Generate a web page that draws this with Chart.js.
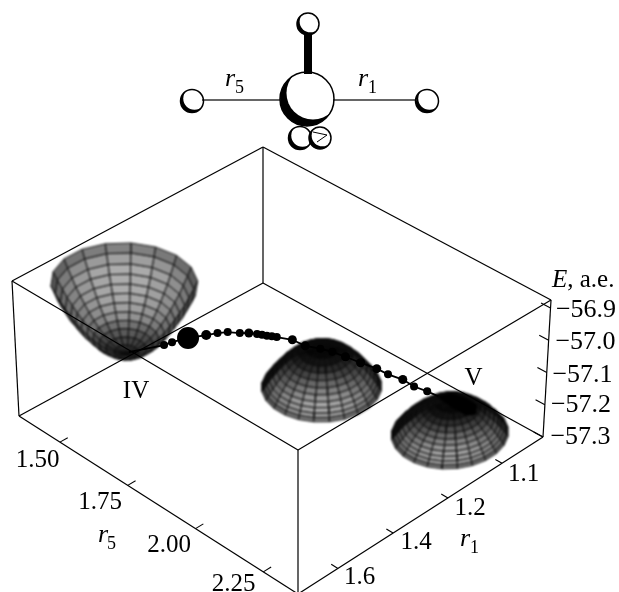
<!DOCTYPE html>
<html><head><meta charset="utf-8">
<style>html,body{margin:0;padding:0;background:#fff}canvas{display:block}</style>
<script src="https://cdn.jsdelivr.net/npm/chart.js@4"></script></head>
<body><canvas id="c" width="619" height="592"></canvas>
<script>
// ---------- axis values ----------
const r1Ticks=[1.1,1.2,1.4,1.6];
const r1TickPos=[0.167,0.388,0.612,0.837];
const r5Ticks=[1.5,1.75,2.0,2.25];
const eTicks=[-56.9,-57.0,-57.1,-57.2,-57.3];
const eMin=-57.3, eMax=-56.875, r5Min=1.349, r5Span=1.029;
// ---------- reaction path ----------
const pathR1=[1.471,1.383,1.359,1.316,1.273,1.246,1.224,1.205,1.194,1.188,1.185,1.182,1.178,1.175,1.165,1.163,1.154,1.148,1.144,1.140,1.135,1.134,1.129,1.130,1.126,1.124];
const pathR5=[1.481,1.521,1.526,1.541,1.564,1.578,1.593,1.618,1.634,1.652,1.664,1.676,1.686,1.698,1.735,1.778,1.815,1.847,1.887,1.934,1.983,2.022,2.066,2.109,2.149,2.186];
const pathE=-57.16;
const pathDot=[0,4,4,11,5,4,4,4,4.5,4,4,4,4,4,4.5,4.5,4,4,4.5,4.5,4.5,4,4.5,4,4,0];
// ---------- end-point patch on V ----------
const patchR1=[1.125,1.108,1.103,1.104,1.119,1.129,1.129];
const patchR5=[2.184,2.202,2.247,2.285,2.312,2.298,2.244];
// ---------- surfaces ----------
const bowlCenter=[1.4765,1.4775];
const bowlRho=[.182,.172,.160,.149,.136,.124,.111,.097,.083,.068,.051,.030,0];
const bowlE=[-56.946,-56.970,-56.996,-57.020,-57.042,-57.063,-57.083,-57.102,-57.119,-57.134,-57.148,-57.158,-57.165];
const bowlSpokes=[15,35,55,75,95,115,135,155,175,195,215,235,255,275,295,315,335,355];
const bowlBackGray=[130,160,172,172,172,168,160,148,115,90,70,60];
const bowlFrontGray=[85,85,85,85,85,85,80,75,70,65,60,55];
const dome1Center=[1.141,1.796];
const dome1Rho=[.152,.146,.140,.133,.124,.114,.102,.090,.076,.061,.043,.023,0];
const dome1E=[-57.300,-57.292,-57.282,-57.270,-57.258,-57.244,-57.231,-57.217,-57.204,-57.193,-57.183,-57.177,-57.175];
const dome2Center=[1.100,2.186];
const dome2Rho=[.148,.143,.136,.129,.121,.111,.099,.087,.074,.059,.042,.022,0];
const dome2E=[-57.300,-57.293,-57.285,-57.276,-57.266,-57.255,-57.245,-57.234,-57.223,-57.214,-57.206,-57.200,-57.198];
const domeSpokes=[7.5,22.5,37.5,52.5,67.5,82.5,97.5,112.5,127.5,142.5,157.5,172.5,187.5,202.5,217.5,232.5,247.5,262.5,277.5,292.5,307.5,322.5,337.5,352.5];
const domeGray=[125,155,165,165,150,130,105,75,45,20,5,0];
// ---------- molecule inset ----------
const atomX=[300,320,308,192,427,307];
const atomY=[138,138,24,101,101,99];
const atomR=[11.5,11,11,11.5,11.5,27];

// ---------- box projection ----------
const boxFloor={B:[263,283],L:[19,416],R:[543,437],F:[298,594]};
const boxTop={B:[263,147],L:[12,281],R:[551,300],F:[298,450]};
function bil(c,a,b,k){return c.B[k]*(1-a)*(1-b)+c.L[k]*a*(1-b)+c.R[k]*(1-a)*b+c.F[k]*a*b;}
function pt(a,b,h){return {x:bil(boxFloor,a,b,0)*(1-h)+bil(boxTop,a,b,0)*h,y:bil(boxFloor,a,b,1)*(1-h)+bil(boxTop,a,b,1)*h};}
function aOf(r){let i=r<r1Ticks[1]?0:(r<r1Ticks[2]?1:2);
  return r1TickPos[i]+(r-r1Ticks[i])*(r1TickPos[i+1]-r1TickPos[i])/(r1Ticks[i+1]-r1Ticks[i]);}
const bOf=r=>(r-r5Min)/r5Span, hOf=e=>(e-eMin)/(eMax-eMin);
const project=(r1,r5,e)=>pt(aOf(r1),bOf(r5),hOf(e));

// ---------- datasets ----------
const paint=[];
function poly(points,fill,stroke,lw){
  paint.push({data:points.concat([points[0]]),showLine:true,pointRadius:0,borderColor:stroke,borderWidth:lw,backgroundColor:fill,fill:fill?'shape':false,tension:0,clip:false,borderJoinStyle:'round'});
}
function seg(points,color,lw,cap){
  paint.push({data:points,showLine:true,pointRadius:0,borderColor:color,borderWidth:lw,fill:false,tension:0,clip:false,borderCapStyle:cap||'butt'});
}
function disc(x,y,r,fill,stroke,lw){
  paint.push({data:[{x,y}],showLine:false,pointRadius:r,pointHoverRadius:r,pointBackgroundColor:fill,pointBorderColor:stroke,pointBorderWidth:lw,clip:false});
}
function gray(v){v=Math.max(0,Math.min(255,Math.round(v)));return `rgb(${v},${v},${v})`;}
function surface(center,rho,es,spokes,shade,descending){
  const a0=aOf(center[0]),b0=bOf(center[1]);
  const P=(i,phi)=>{const t=(45+phi)*Math.PI/180;return pt(a0+rho[i]*(280/244)*Math.cos(t),b0+rho[i]*Math.sin(t),hOf(es[i]));};
  const cells=[];
  for(let i=0;i<rho.length-1;i++)for(let s=0;s<spokes.length;s++){
    const p1=spokes[s],p2=spokes[(s+1)%spokes.length]+(s===spokes.length-1?360:0),m=(p1+p2)/2;
    const c=Math.cos(m*Math.PI/180);
    cells.push({d:(rho[i]+rho[i+1])*c,pts:[P(i,p1),P(i,p2),P(i+1,p2),P(i+1,p1)],g:shade(i,c)});
  }
  cells.sort((u,v)=>descending?v.d-u.d:u.d-v.d);
  for(const k of cells)poly(k.pts,gray(k.g),'rgb(10,10,10)',0.95);
}
surface(bowlCenter,bowlRho,bowlE,bowlSpokes,(i,c)=>c>0?bowlFrontGray[i]:bowlBackGray[i]*(0.6+0.4*Math.abs(c)),true);
surface(dome1Center,dome1Rho,dome1E,domeSpokes,(i,c)=>c>0?domeGray[i]*(0.35+0.65*c):15,false);
surface(dome2Center,dome2Rho,dome2E,domeSpokes,(i,c)=>c>0?domeGray[i]*(0.35+0.65*c):15,false);
poly(patchR1.map((r,i)=>project(r,patchR5[i],pathE)),'#000','#000',1);
const lastSurface=paint.length-1;

// box
const C=(k,top)=>({x:(top?boxTop:boxFloor)[k][0],y:(top?boxTop:boxFloor)[k][1]});
const boxEdges=[['B',1,'L',1],['L',1,'F',1],['F',1,'R',1],['R',1,'B',1],['B',0,'L',0],['L',0,'F',0],['F',0,'R',0],['R',0,'B',0],['B',1,'B',0],['L',1,'L',0],['F',1,'F',0],['R',1,'R',0]];
for(const e of boxEdges)seg([C(e[0],e[1]),C(e[2],e[3])],'#000',1.2);
// ticks
for(const v of r5Ticks){const b=bOf(v);seg([pt(1,b,0),pt(1-0.032,b,0)],'#000',1.1);}
for(const v of r1Ticks){const a=aOf(v);seg([pt(a,1,0),pt(a,1-0.024,0)],'#000',1.1);}
for(const v of eTicks){const h=hOf(v);seg([pt(0,1,h),pt(0,1-0.033,h)],'#000',1.1);}
// path
seg(pathR1.map((r,i)=>project(r,pathR5[i],pathE)),'#000',1.8);
paint.push({data:pathR1.map((r,i)=>project(r,pathR5[i],pathE)),showLine:false,pointRadius:pathDot,pointHoverRadius:pathDot,pointBackgroundColor:'#000',pointBorderColor:'#000',pointBorderWidth:0,clip:false});

// molecule
function ball(i){const r=atomR[i];disc(atomX[i],atomY[i],r,'#000','#000',0);disc(atomX[i]+0.22*r,atomY[i]-0.22*r,0.98*r,'#fff','#fff',0);}
function rim(i){disc(atomX[i],atomY[i],atomR[i],'rgba(0,0,0,0)','#000',1.5);}
ball(0);rim(0);ball(1);rim(1);
seg([{x:313,y:132},{x:327,y:135},{x:317,y:142}],'#000',1);
[2,3,4,5].forEach(ball);
seg([{x:308,y:34},{x:308,y:74}],'#000',8);
seg([{x:202,y:100},{x:281,y:100}],'#333',1.5);
seg([{x:333,y:100},{x:417,y:100}],'#333',1.5);
[2,3,4,5].forEach(rim);

paint.forEach((d,i)=>{d.order=paint.length-i;});

// ---------- text ----------
const SERIF='"Liberation Serif"';
const texts=[
 ['1.50',37.5,467],['1.75',100,509],['2.00',169,552],['2.25',233.5,591],
 ['1.1',523.5,481],['1.2',470,515],['1.4',416,549],['1.6',359.5,584],
 ['IV',136,398],['V',473.5,385]];
const eTexts=[['\u221256.9',586,317],['\u221257.0',585.5,349],['\u221257.1',582.5,382],['\u221257.2',581,412],['\u221257.3',580.5,444]];
const italicTexts=[['r',98,542,'5',107,549],['r',460,546,'1',470,553],['r',225,86,'5',235,93],['r',358,86,'1',368,93]];
const textPlugin={id:'textPlugin',
 afterDatasetDraw(chart,args){
  if(args.index!==lastSurface)return;
  const c=chart.canvas,off=document.createElement('canvas');off.width=c.width;off.height=c.height;
  off.getContext('2d').drawImage(c,0,0);
  const g=chart.ctx;g.save();g.setTransform(1,0,0,1,0,0);g.clearRect(0,0,c.width,c.height);
  g.filter='blur(0.85px)';g.drawImage(off,0,0);g.restore();
 },
 afterDraw(chart){
  const g=chart.ctx;g.save();g.fillStyle='#000';g.textBaseline='alphabetic';g.textAlign='center';
  g.font=`25px ${SERIF}`;
  for(const t of texts)g.fillText(t[0],t[1],t[2]);
  g.font=`26px ${SERIF}`;
  for(const t of eTexts)g.fillText(t[0],t[1],t[2]);
  g.textAlign='left';
  for(const t of italicTexts){g.font=`italic 26px ${SERIF}`;g.fillText(t[0],t[1],t[2]);g.font=`18px ${SERIF}`;g.fillText(t[3],t[4],t[5]);}
  g.font=`italic 25px ${SERIF}`;g.fillText('E',552,287);
  const w=g.measureText('E').width;g.font=`25px ${SERIF}`;g.fillText(', a.e.',552+w,287);
  g.restore();
 }};

new Chart(document.getElementById('c'),{
 type:'scatter',
 data:{datasets:paint},
 plugins:[textPlugin],
 options:{responsive:false,animation:false,events:[],layout:{padding:0,autoPadding:false},
  plugins:{legend:{display:false},tooltip:{enabled:false},title:{display:false}},
  scales:{x:{type:'linear',min:0,max:619,display:false},y:{type:'linear',min:0,max:592,reverse:true,display:false}}}
});
</script></body></html>
